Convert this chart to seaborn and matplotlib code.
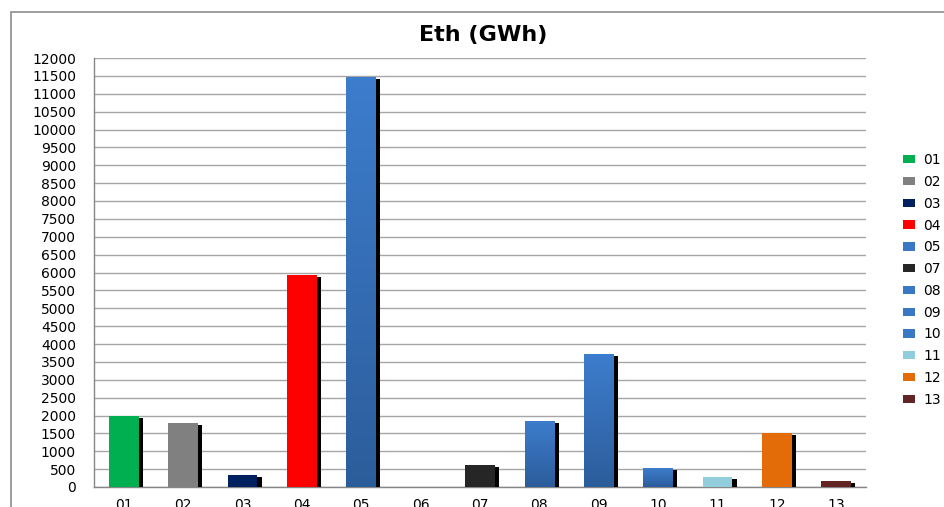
import numpy as np
import matplotlib
matplotlib.use("Agg")
import matplotlib.pyplot as plt
import matplotlib.patheffects as pe
from matplotlib.patches import Rectangle, Patch
from matplotlib.colors import LinearSegmentedColormap
import seaborn as sns
import pandas as pd

# Thermal energy per unit (GWh)
units = ["01", "02", "03", "04", "05", "06", "07", "08", "09", "10", "11", "12", "13"]
eth_gwh = [2000, 1790, 340, 5930, 11480, 0, 620, 1850, 3720, 530, 280, 1510, 170]
unit_colors = ["#00B050", "#808080", "#002060", "#FF0000", "#3A78C6", "#3A78C6",
               "#262626", "#3A78C6", "#3A78C6", "#3A78C6", "#92CDDC", "#E36C09", "#632523"]
gradient_units = ["05", "08", "09", "10"]
y_ticks = list(range(0, 12001, 500))

df = pd.DataFrame({"unit": units, "eth": eth_gwh})
palette = dict(zip(units, unit_colors))

sns.set_style("white")
plt.rcParams["font.family"] = ["DejaVu Sans"]
plt.rcParams["text.color"] = "black"

fig = plt.figure(figsize=(9.44, 5.07), dpi=100)
ax = fig.add_axes([94 / 944, 20 / 507, 772 / 944, 429 / 507])

sns.barplot(data=df, x="unit", y="eth", hue="unit", palette=palette,
            width=0.5, saturation=1, legend=False, ax=ax, zorder=3)

ax.set_xlabel("")
ax.set_ylabel("")

# Drop shadow on each bar and a vertical gradient on the blue bars
blue_cmap = LinearSegmentedColormap.from_list("blue_grad", ["#2C5D9B", "#3D7DCD"])
shadow = [pe.SimplePatchShadow(offset=(3.1, -1.7), shadow_rgbFace="black", alpha=1.0),
          pe.Normal()]
for bar in ax.patches:
    bar.set_linewidth(0)
    bar.set_path_effects(shadow)
for bar, name in zip(ax.patches[:len(units)], units):
    if name in gradient_units and bar.get_height() > 0:
        x0, w, h = bar.get_x(), bar.get_width(), bar.get_height()
        grad = np.linspace(0, 1, 256).reshape(-1, 1)
        img = ax.imshow(grad, cmap=blue_cmap, origin="lower", aspect="auto",
                        extent=(x0, x0 + w, 0, h), zorder=4)
        img.set_clip_path(bar)
ax.set_xlim(-0.5, len(units) - 0.5)
ax.set_ylim(0, 12000)
ax.set_yticks(y_ticks)
ax.set_yticklabels([str(v) for v in y_ticks])

# Grid, spines and ticks
ax.yaxis.grid(True, color="#A6A6A6", linewidth=1.0, zorder=0)
ax.xaxis.grid(False)
ax.set_axisbelow(True)
for side in ["top", "right"]:
    ax.spines[side].set_visible(False)
for side in ["left", "bottom"]:
    ax.spines[side].set_color("#868686")
    ax.spines[side].set_linewidth(1.0)

ax.set_xticks(np.arange(-0.5, len(units), 1.0), minor=True)
ax.tick_params(axis="x", which="major", length=0, pad=8, labelsize=10, labelcolor="black")
ax.tick_params(axis="x", which="minor", length=4, color="#868686", width=1)
ax.tick_params(axis="y", which="major", length=6, color="#868686", width=1,
               pad=7, labelsize=10, labelcolor="black")

# Legend without the idle unit
legend_handles = [Patch(facecolor=palette[u], edgecolor="none")
                  for u, v in zip(units, eth_gwh) if v > 0]
legend_labels = [u for u, v in zip(units, eth_gwh) if v > 0]
ax.legend(legend_handles, legend_labels,
          loc="center left", bbox_to_anchor=(897 / 944, 1 - 280 / 507),
          bbox_transform=fig.transFigure, frameon=False, fontsize=10,
          handlelength=0.9, handleheight=0.55, handletextpad=0.6,
          labelspacing=0.56, borderaxespad=0)

fig.text(483 / 944, 1 - 35 / 507, "Eth (GWh)", ha="center", va="center",
         fontsize=16, fontweight="bold", color="black")

# Chart area border
fig.patches.append(Rectangle((10.5 / 944, -0.1), 1.2, 1 - 11.5 / 507 + 0.1,
                             transform=fig.transFigure, fill=False,
                             edgecolor="#8C8C8C", linewidth=1.2))

fig.savefig("out.png", dpi=100)
